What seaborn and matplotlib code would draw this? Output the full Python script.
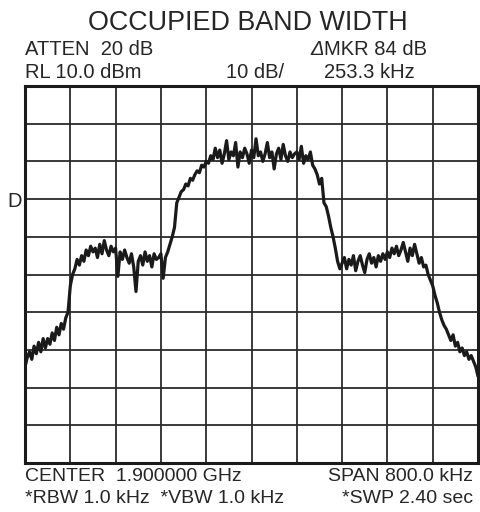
import numpy as np
import pandas as pd
import seaborn as sns
import matplotlib.pyplot as plt

# Spectrum trace, one value every 4 kHz (span 800 kHz)
freq_offset_khz = np.arange(-400, 401, 4)

level_dbm = [
    # -400 .. -324 kHz
    -64.5, -62, -60.5, -62.5, -59, -61, -58, -60.5, -57, -59.5,
    -57, -58.5, -55.5, -57.5, -54, -56, -53, -54.5, -51.5, -50,
    # -320 .. -244 kHz
    -43, -40, -38.5, -36, -37.5, -35, -36.5, -33.5, -35, -32.5,
    -34, -33, -35.5, -32, -34.5, -31, -33.5, -35, -32.5, -34,
    # -240 .. -164 kHz
    -33, -40.5, -34, -36, -33.5, -35.5, -37, -34.5, -38, -44.5,
    -36.5, -35, -37.5, -34, -36.5, -35, -38, -34.5, -36, -35.5,
    # -160 .. -84 kHz
    -34.5, -41, -35.5, -34, -32, -30, -27.5, -21, -19.5, -18,
    -17.5, -16, -16.5, -14.5, -15, -13.5, -12.5, -13, -11, -11.5,
    # -80 .. -4 kHz
    -10, -10.5, -8.5, -9.5, -6.5, -9, -7, -10.5, -8, -4.5,
    -9.5, -7.5, -8.5, -5, -11.5, -7.5, -9, -6.5, -8, -10.5,
    # 0 .. 76 kHz
    -7, -9, -4, -8.5, -7.5, -10, -8, -5, -9, -7.5,
    -12, -8, -6.5, -9.5, -5.5, -8.5, -10, -7.5, -9, -8,
    # 80 .. 156 kHz
    -7.5, -9.5, -6, -10.5, -8.5, -9.5, -7.5, -11, -12, -13.5,
    -16, -14.5, -21, -22, -24.5, -27.5, -30, -33, -36.5, -38.5,
    # 160 .. 236 kHz
    -37, -35.5, -38.5, -36, -37.5, -35, -39, -36.5, -35, -37.5,
    -39.5, -36, -34.5, -37, -35.5, -38, -35, -36.5, -34.5, -36,
    # 240 .. 316 kHz
    -34, -35.5, -33, -34.5, -32.5, -35, -33.5, -31.5, -34, -36.5,
    -33, -35, -32, -34.5, -37, -35.5, -38, -37.5, -40, -41.5,
    # 320 .. 400 kHz
    -43, -45.5, -47.5, -50, -52, -53.5, -54.5, -56, -57.5, -56,
    -59, -58, -60.5, -59.5, -61.5, -60.5, -62.5, -61.5, -63, -64.5, -67,
]

ref_level = 10
db_per_div = 10
span_khz = 800

df = pd.DataFrame({"freq": freq_offset_khz, "level": level_dbm})

sns.set_style("white")
plt.rcParams['font.family'] = ['Liberation Sans', 'DejaVu Sans']

fig = plt.figure(figsize=(4.8, 5.12), dpi=100)
ax = fig.add_axes([25 / 480, 49 / 512, 453 / 480, 377 / 512])

sns.lineplot(data=df, x="freq", y="level", ax=ax, color="#1a1a1a", linewidth=2.3)

ax.set_xlim(-span_khz / 2, span_khz / 2)
ax.set_ylim(ref_level - 10 * db_per_div, ref_level)
ax.set_xticks(np.linspace(-span_khz / 2, span_khz / 2, 11))
ax.set_yticks(np.arange(ref_level - 10 * db_per_div, ref_level + 1, db_per_div))
ax.set_xticklabels([])
ax.set_yticklabels([])
ax.tick_params(length=0)
ax.set_xlabel("")
ax.set_ylabel("")
ax.grid(True, color="#2b2b2b", linewidth=1.3)
for sp in ax.spines.values():
    sp.set_color("#1a1a1a")
    sp.set_linewidth(2.2)

# header lines
fs = 14.5
fig.text(248 / 480, 1 - 30 / 512, "OCCUPIED BAND WIDTH", ha="center", va="baseline", fontsize=19.4)
fig.text(25 / 480, 1 - 55 / 512, "ATTEN  20 dB", ha="left", va="baseline", fontsize=fs)
fig.text(25 / 480, 1 - 78 / 512, "RL 10.0 dBm", ha="left", va="baseline", fontsize=fs)
fig.text(284 / 480, 1 - 78 / 512, "10 dB/", ha="right", va="baseline", fontsize=fs)
mkr = fig.text(427 / 480, 1 - 55 / 512, "MKR 84 dB", ha="right", va="baseline", fontsize=fs)
fig.text(415 / 480, 1 - 78 / 512, "253.3 kHz", ha="right", va="baseline", fontsize=fs)
fig.text(7 / 480, 1 - 207 / 512, "D", ha="left", va="baseline", fontsize=fs)

# italic delta in front of the marker readout
renderer = fig.canvas.get_renderer()
x0 = mkr.get_window_extent(renderer).x0 / fig.bbox.width
fig.text(x0, 1 - 55 / 512, "\u0394", ha="right", va="baseline", fontsize=fs, style="italic")

# footer lines
fs2 = 14
fig.text(25 / 480, 1 - 481 / 512, "CENTER  1.900000 GHz", ha="left", va="baseline", fontsize=fs2)
fig.text(473 / 480, 1 - 481 / 512, "SPAN 800.0 kHz", ha="right", va="baseline", fontsize=fs2)
fig.text(25 / 480, 1 - 503 / 512, "*RBW 1.0 kHz  *VBW 1.0 kHz", ha="left", va="baseline", fontsize=fs2)
fig.text(473 / 480, 1 - 503 / 512, "*SWP 2.40 sec", ha="right", va="baseline", fontsize=fs2)

fig.savefig("out.png", dpi=100)
